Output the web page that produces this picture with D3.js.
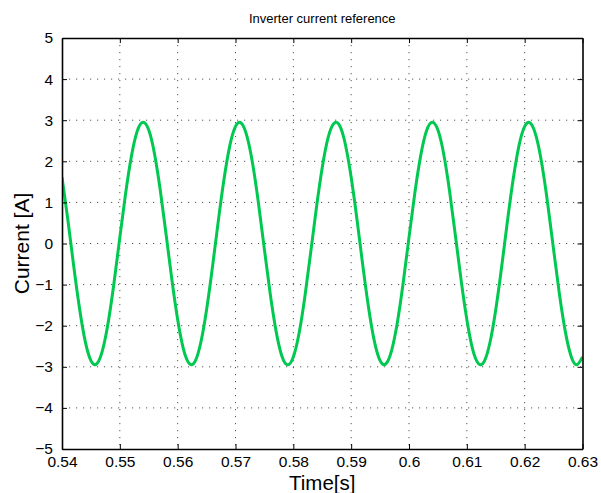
<!DOCTYPE html>
<html>
<head>
<meta charset="utf-8">
<script src="https://cdn.jsdelivr.net/npm/d3@7"></script>
<style>
  html, body { margin: 0; padding: 0; background: #fff; }
  svg { display: block; font-family: "Liberation Sans", Arial, Helvetica, sans-serif; }
</style>
</head>
<body>
<svg id="chart" width="601" height="493"></svg>
<script>
// Sampled inverter current reference, 1 ms steps from 0.540 s to 0.630 s
const tStart = 0.540;
const tStep = 0.001;
const current = [
   1.61,  0.59, -0.52, -1.55, -2.37, -2.85, -2.93, -2.60, -1.91, -0.95,
   0.15,  1.22,  2.12,  2.73,  2.95,  2.76,  2.18,  1.29,  0.22, -0.88,
  -1.85, -2.57, -2.92, -2.87, -2.41, -1.61, -0.59,  0.52,  1.55,  2.37,
   2.85,  2.93,  2.60,  1.91,  0.95, -0.15, -1.22, -2.12, -2.73, -2.95,
  -2.76, -2.18, -1.29, -0.22,  0.88,  1.85,  2.57,  2.92,  2.87,  2.41,
   1.61,  0.59, -0.52, -1.55, -2.37, -2.85, -2.93, -2.60, -1.91, -0.95,
   0.15,  1.22,  2.12,  2.73,  2.95,  2.76,  2.18,  1.29,  0.22, -0.88,
  -1.85, -2.57, -2.92, -2.87, -2.41, -1.61, -0.59,  0.52,  1.55,  2.37,
   2.85,  2.93,  2.60,  1.91,  0.95, -0.15, -1.22, -2.12, -2.73, -2.95,
  -2.76
];
const times = current.map((_, i) => +(tStart + i * tStep).toFixed(3));

const xTicks = [0.54, 0.55, 0.56, 0.57, 0.58, 0.59, 0.6, 0.61, 0.62, 0.63];
const yTicks = [-5, -4, -3, -2, -1, 0, 1, 2, 3, 4, 5];
const xDomain = [0.54, 0.63];
const yDomain = [-5, 5];

const titleText = "Inverter current reference";
const xLabel = "Time[s]";
const yLabel = "Current [A]";

const margin = { left: 62, right: 18.5, top: 38, bottom: 44 };
const W = 601, H = 493;
const iw = W - margin.left - margin.right;
const ih = H - margin.top - margin.bottom;

const svg = d3.select("#chart");
const g = svg.append("g").attr("transform", `translate(${margin.left},${margin.top})`);

const x = d3.scaleLinear().domain(xDomain).range([0, iw]);
const y = d3.scaleLinear().domain(yDomain).range([ih, 0]);

const fmtX = d => String(d);
const fmtY = d => (d < 0 ? "\u2212" + Math.abs(d) : String(d));

// dotted grid
const grid = g.append("g").attr("class", "grid");
grid.selectAll("line.gx").data(xTicks.slice(1, -1)).join("line")
  .attr("x1", d => x(d)).attr("x2", d => x(d))
  .attr("y1", 0).attr("y2", ih)
  .attr("stroke", "#555").attr("stroke-width", 1)
  .attr("stroke-dasharray", "1.2,5.8");
grid.selectAll("line.gy").data(yTicks.slice(1, -1)).join("line")
  .attr("x1", 0).attr("x2", iw)
  .attr("y1", d => y(d)).attr("y2", d => y(d))
  .attr("stroke", "#555").attr("stroke-width", 1)
  .attr("stroke-dasharray", "1.2,5.8");

// signal, smoothed through the samples with a natural cubic spline
const line = d3.line()
  .x((d, i) => x(times[i]))
  .y(d => y(d))
  .curve(d3.curveNatural);

g.append("defs").append("clipPath").attr("id", "plotClip")
  .append("rect").attr("x", 0).attr("y", 0).attr("width", iw).attr("height", ih);

g.append("path")
  .datum(current)
  .attr("clip-path", "url(#plotClip)")
  .attr("fill", "none")
  .attr("stroke", "rgb(0,200,80)")
  .attr("stroke-width", 3)
  .attr("stroke-linejoin", "round")
  .attr("d", line);

// axes with inward ticks on all four sides
const tickLen = 5;
const axB = d3.axisBottom(x).tickValues(xTicks).tickFormat(fmtX).tickSizeInner(-tickLen).tickSizeOuter(0).tickPadding(7);
const axT = d3.axisTop(x).tickValues(xTicks).tickFormat("").tickSizeInner(-tickLen).tickSizeOuter(0);
const axL = d3.axisLeft(y).tickValues(yTicks).tickFormat(fmtY).tickSizeInner(-tickLen).tickSizeOuter(0).tickPadding(9);
const axR = d3.axisRight(y).tickValues(yTicks).tickFormat("").tickSizeInner(-tickLen).tickSizeOuter(0);

function styleAxis(sel) {
  sel.select(".domain").attr("stroke", "#000").attr("stroke-width", 1.6);
  sel.selectAll(".tick line").attr("stroke", "#000").attr("stroke-width", 1);
  sel.selectAll(".tick text").attr("fill", "#000").attr("font-size", 15.5)
    .attr("font-family", "Liberation Sans, Arial, sans-serif");
}

g.append("g").attr("transform", `translate(0,${ih})`).call(axB).call(styleAxis);
g.append("g").call(axT).call(styleAxis);
g.append("g").call(axL).call(styleAxis);
g.append("g").attr("transform", `translate(${iw},0)`).call(axR).call(styleAxis);

// title and axis labels
svg.append("text")
  .attr("x", margin.left + iw / 2).attr("y", 23)
  .attr("text-anchor", "middle").attr("font-size", 13).attr("fill", "#000")
  .text(titleText);

svg.append("text")
  .attr("x", margin.left + iw / 2).attr("y", 490)
  .attr("text-anchor", "middle").attr("font-size", 20.5).attr("fill", "#000")
  .text(xLabel);

svg.append("text")
  .attr("transform", `translate(29,${margin.top + ih / 2}) rotate(-90)`)
  .attr("text-anchor", "middle").attr("font-size", 21).attr("fill", "#000")
  .text(yLabel);
</script>
</body>
</html>
